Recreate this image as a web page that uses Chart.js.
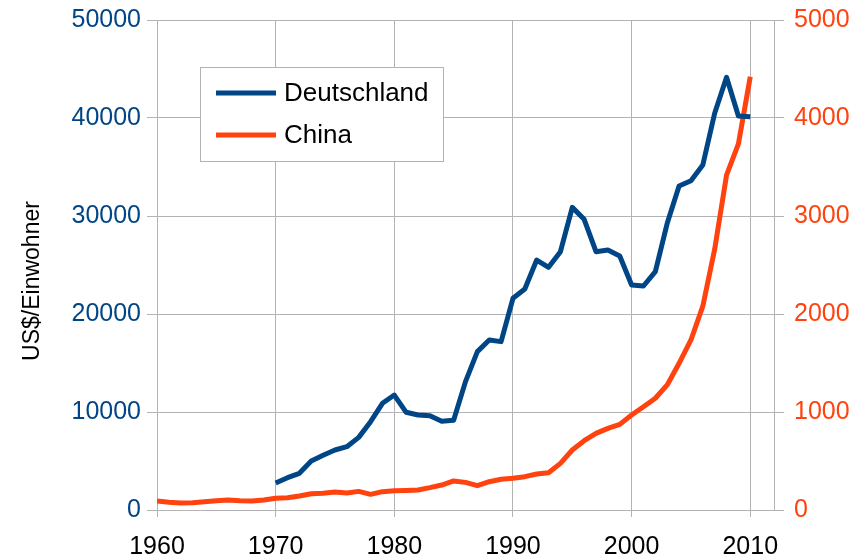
<!DOCTYPE html>
<html>
<head>
<meta charset="utf-8">
<script src="https://cdn.jsdelivr.net/npm/chart.js@4/dist/chart.umd.min.js"></script>
<style>
  html, body { margin: 0; padding: 0; background: #ffffff; }
  #wrap { width: 861px; height: 556px; position: relative; }
</style>
</head>
<body>
<div id="wrap"><canvas id="c" width="861" height="556"></canvas></div>
<script>
// ---- data ----
const years = [1960,1961,1962,1963,1964,1965,1966,1967,1968,1969,
               1970,1971,1972,1973,1974,1975,1976,1977,1978,1979,
               1980,1981,1982,1983,1984,1985,1986,1987,1988,1989,
               1990,1991,1992,1993,1994,1995,1996,1997,1998,1999,
               2000,2001,2002,2003,2004,2005,2006,2007,2008,2009,2010];
const deutschland = [null,null,null,null,null,null,null,null,null,null,
               2760,3300,3740,5000,5580,6120,6460,7410,9010,10890,
               11730,9970,9700,9620,9050,9150,13100,16160,17350,17180,
               21600,22550,25510,24760,26360,30880,29660,26360,26530,25920,
               22960,22860,24320,29250,33060,33600,35200,40480,44150,40200,40130];
const china = [92,78,71,75,85,95,102,95,92,102,
               119,125,143,166,170,183,173,190,160,187,
               197,200,204,228,255,296,282,248,289,313,
               323,340,367,381,476,612,707,782,833,874,
               969,1054,1140,1276,1497,1735,2080,2660,3418,3735,4421];
const seriesNames = ["Deutschland", "China"];
const xTicks = [1960, 1970, 1980, 1990, 2000, 2010];
const leftTicks = [0, 10000, 20000, 30000, 40000, 50000];
const rightTicks = [0, 1000, 2000, 3000, 4000, 5000];
const yTitle = "US$/Einwohner";

// ---- styling ----
const BLUE = "#004586";
const ORANGE = "#ff420e";
const GRID = "#b3b3b3";
const FONT = "'Liberation Sans', Arial, sans-serif";

const toPoints = (vals) => years.map((y, i) => ({ x: y, y: vals[i] }));

const decorPlugin = {
  id: 'decor',
  afterDraw(chart) {
    const ctx = chart.ctx;
    ctx.save();
    // axis title (rotated), centred where the reference shows it
    ctx.translate(33, 281);
    ctx.rotate(-Math.PI / 2);
    ctx.fillStyle = "#000000";
    ctx.font = "23px " + FONT;
    ctx.textAlign = 'center';
    ctx.textBaseline = 'middle';
    ctx.fillText(yTitle, 0, 0);
    ctx.restore();

    // legend box
    ctx.save();
    const bx = 200.5, by = 67.5, bw = 243, bh = 94;
    ctx.fillStyle = "#ffffff";
    ctx.fillRect(bx, by, bw, bh);
    ctx.strokeStyle = GRID;
    ctx.lineWidth = 1;
    ctx.strokeRect(bx, by, bw, bh);
    const rows = [93, 135];
    chart.data.datasets.forEach((ds, i) => {
      ctx.strokeStyle = ds.borderColor;
      ctx.lineWidth = 5;
      ctx.lineCap = 'butt';
      ctx.beginPath();
      ctx.moveTo(216, rows[i]);
      ctx.lineTo(276, rows[i]);
      ctx.stroke();
      ctx.fillStyle = "#000000";
      ctx.font = "26px " + FONT;
      ctx.textBaseline = 'middle';
      ctx.textAlign = 'left';
      ctx.fillText(ds.label, 284, rows[i] + 1);
    });
    ctx.restore();
  }
};

new Chart(document.getElementById('c'), {
  type: 'line',
  data: {
    datasets: [
      { label: seriesNames[0], data: toPoints(deutschland), yAxisID: 'yL',
        borderColor: BLUE, backgroundColor: BLUE, borderWidth: 5,
        pointRadius: 0, tension: 0, borderJoinStyle: 'round', borderCapStyle: 'butt', spanGaps: false },
      { label: seriesNames[1], data: toPoints(china), yAxisID: 'yR',
        borderColor: ORANGE, backgroundColor: ORANGE, borderWidth: 5,
        pointRadius: 0, tension: 0, borderJoinStyle: 'round', borderCapStyle: 'butt', spanGaps: false }
    ]
  },
  options: {
    responsive: false,
    animation: false,
    layout: { padding: { top: 20, left: 0, right: 0, bottom: 0 } },
    plugins: { legend: { display: false }, tooltip: { enabled: false } },
    scales: {
      x: {
        type: 'linear', position: 'bottom', min: 1960, max: 2012,
        afterBuildTicks: (s) => { s.ticks = xTicks.map(v => ({ value: v })); },
        afterFit: (s) => { s.height = 46; },
        grid: { color: GRID, lineWidth: 1, drawTicks: true, tickLength: 7, tickColor: GRID },
        border: { color: GRID, width: 1 },
        ticks: { color: "#000000", font: { family: FONT, size: 25 }, padding: 15, maxRotation: 0,
                 callback: (v) => String(v) }
      },
      yL: {
        type: 'linear', position: 'left', min: 0, max: 50000,
        afterBuildTicks: (s) => { s.ticks = leftTicks.map(v => ({ value: v })); },
        afterFit: (s) => { s.width = 157; },
        grid: { color: GRID, lineWidth: 1, drawTicks: true, tickLength: 10, tickColor: GRID },
        border: { color: GRID, width: 1 },
        ticks: { color: BLUE, font: { family: FONT, size: 25, lineHeight: 0.8 }, padding: 6,
                 callback: (v) => String(v) }
      },
      yR: {
        type: 'linear', position: 'right', min: 0, max: 5000,
        afterBuildTicks: (s) => { s.ticks = rightTicks.map(v => ({ value: v })); },
        afterFit: (s) => { s.width = 87; },
        grid: { drawOnChartArea: false, color: GRID, drawTicks: true, tickLength: 10, tickColor: GRID },
        border: { color: GRID, width: 1 },
        ticks: { color: ORANGE, font: { family: FONT, size: 25, lineHeight: 0.8 }, padding: 10,
                 callback: (v) => String(v) }
      }
    }
  },
  plugins: [decorPlugin]
});
</script>
</body>
</html>
